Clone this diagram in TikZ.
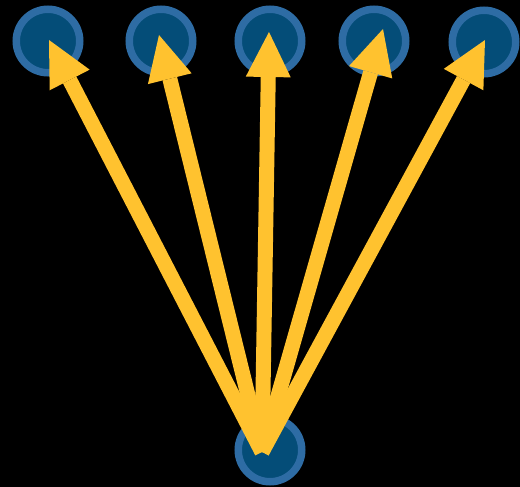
\documentclass[tikz,border=0pt]{standalone}
\usetikzlibrary{arrows.meta,calc}
\definecolor{bgblack}{HTML}{000000}
\definecolor{dotfill}{HTML}{044D78}
\definecolor{dotring}{HTML}{2E6CA4}
\definecolor{arrowyellow}{HTML}{FFC22F}
\begin{document}
\begin{tikzpicture}[x=1pt,y=-1pt,
  dot/.style={circle,draw=dotring,fill=dotfill,line width=7.5pt,minimum size=63.5pt,inner sep=0pt},
  bigarrow/.style={draw=arrowyellow,line width=15pt,
    -{Triangle[length=45pt,width=45pt,line width=0pt,fill=arrowyellow]}}]
\fill[bgblack] (0,0) rectangle (520,487);
\useasboundingbox (0,0) rectangle (520,487);
\node[dot] (t1) at (48,41) {};
\node[dot] (t2) at (161,41) {};
\node[dot] (t3) at (270,41) {};
\node[dot] (t4) at (374,41) {};
\node[dot] (t5) at (484,42) {};
\node[dot] (b) at (270,450) {};
\coordinate (tail) at ($(b.center)+(-8,2)$);
\draw[bigarrow] (tail) -- ($(t1.center)+(1,-1)$);
\draw[bigarrow] (tail) -- ($(t2.center)+(-2,-6)$);
\draw[bigarrow] (tail) -- ($(t3.center)+(-1,-9)$);
\draw[bigarrow] (tail) -- ($(t4.center)+(9,-12)$);
\draw[bigarrow] (tail) -- ($(t5.center)+(1,-2)$);
\end{tikzpicture}
\end{document}
